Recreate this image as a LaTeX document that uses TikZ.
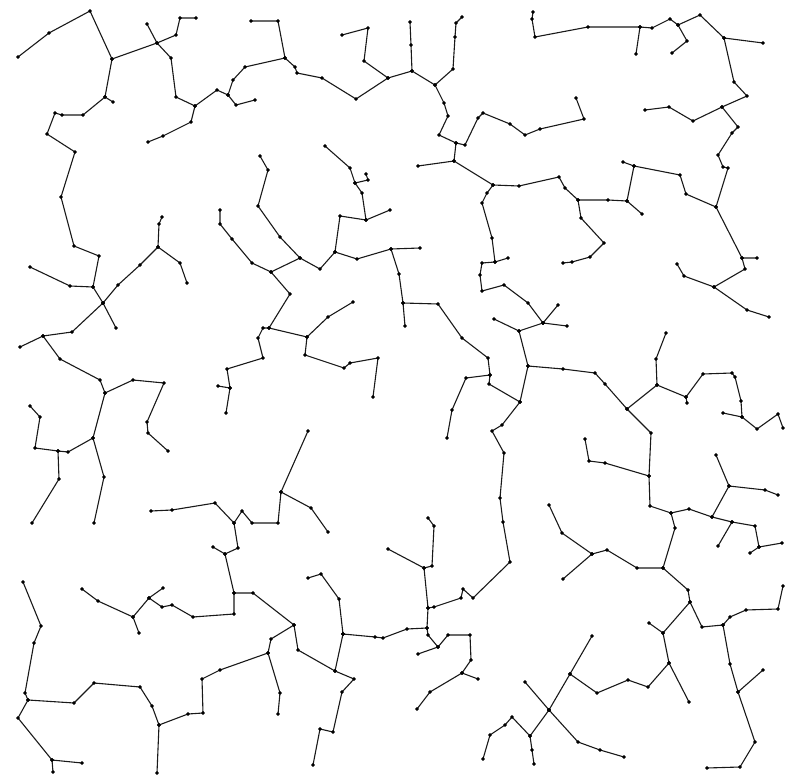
\documentclass[tikz,border=0pt]{standalone}
\usepackage{tikz}
\usetikzlibrary{positioning}

\begin{document}
\begin{tikzpicture}[
    x=1pt, y=-1pt,
    branch/.style={draw=black!90, line width=1.1pt, line join=round,
                 mark=*, mark size=1.7pt, mark options={fill=black, draw=black, line width=0.4pt}}
  ]

  \useasboundingbox (0,0) rectangle (788,778);

  % top left
  \draw[branch] plot coordinates {(18,57) (49,33) (90,11) (112,59) (105,97) (83,115) (62,115) (55,113) (47,134) (75,152) (61,197) (74,246) (99,256) (93,287) (103,303) (116,328)};
  \draw[branch] plot coordinates {(105,97) (113,102)};
  \draw[branch] plot coordinates {(112,59) (157,43) (176,35) (180,18) (196,18)};
  \draw[branch] plot coordinates {(147,24) (157,43) (171,58) (176,97) (195,106) (191,122) (163,136) (148,142)};
  \draw[branch] plot coordinates {(195,106) (217,90) (228,95) (233,80) (245,67) (285,58) (278,21) (251,21)};
  \draw[branch] plot coordinates {(228,95) (236,105) (255,100)};
  \draw[branch] plot coordinates {(285,58) (295,67) (297,73) (322,78) (356,99) (388,78) (364,61) (368,28) (342,35)};
  \draw[branch] plot coordinates {(388,78) (412,71) (411,45) (410,22)};
  \draw[branch] plot coordinates {(412,71) (435,85) (453,69) (455,37) (456,23) (462,17)};
  \draw[branch] plot coordinates {(435,85) (444,103) (448,116) (439,135) (456,143) (465,145) (478,118) (483,113) (510,124) (525,135) (540,129) (584,119) (576,98)};
  \draw[branch] plot coordinates {(456,143) (454,161) (418,166)};
  \draw[branch] plot coordinates {(454,161) (493,185) (519,186) (559,177) (565,188) (578,200) (608,200) (627,201) (642,214)};
  \draw[branch] plot coordinates {(578,200) (581,218) (604,243) (590,257) (572,262) (563,263)};
  \draw[branch] plot coordinates {(493,185) (487,193) (482,203) (492,238) (495,262) (508,258)};
  \draw[branch] plot coordinates {(495,262) (482,263) (480,275) (482,291) (504,285) (528,303) (543,323) (558,305)};
  \draw[branch] plot coordinates {(543,323) (567,326)};
  \draw[branch] plot coordinates {(543,323) (519,331) (494,319)};
  \draw[branch] plot coordinates {(519,331) (528,366) (520,402) (489,384) (490,375) (488,358) (462,338) (438,304) (403,303) (399,274) (391,249)};
  \draw[branch] plot coordinates {(403,303) (405,326)};
  \draw[branch] plot coordinates {(490,375) (466,378) (452,410) (447,438)};

  % right side
  \draw[branch] plot coordinates {(528,366) (563,369) (595,373) (605,384) (627,409) (657,385) (656,359) (666,333)};
  \draw[branch] plot coordinates {(657,385) (686,397) (687,403)};
  \draw[branch] plot coordinates {(686,397) (703,374) (732,373) (735,377) (741,401) (742,417) (757,429) (778,414) (783,428)};
  \draw[branch] plot coordinates {(723,413) (742,417)};
  \draw[branch] plot coordinates {(627,409) (651,433) (649,476) (650,506) (671,513) (689,509) (712,517) (729,486) (716,455)};
  \draw[branch] plot coordinates {(729,486) (765,490) (778,495)};
  \draw[branch] plot coordinates {(712,517) (732,522) (755,526) (759,547) (782,543)};
  \draw[branch] plot coordinates {(759,547) (750,553)};
  \draw[branch] plot coordinates {(732,522) (718,546)};
  \draw[branch] plot coordinates {(649,476) (605,463) (589,461) (585,439)};
  \draw[branch] plot coordinates {(671,513) (675,528) (663,568) (688,590) (690,602) (702,627) (723,625) (730,617) (746,610) (778,609) (783,586)};
  \draw[branch] plot coordinates {(663,568) (637,568) (607,550) (592,554) (562,533) (549,505)};
  \draw[branch] plot coordinates {(592,554) (563,579)};
  \draw[branch] plot coordinates {(690,602) (663,633) (649,623)};
  \draw[branch] plot coordinates {(663,633) (669,663) (689,702)};
  \draw[branch] plot coordinates {(669,663) (648,687) (628,680) (597,693) (570,674) (592,636)};
  \draw[branch] plot coordinates {(570,674) (549,710) (525,682)};
  \draw[branch] plot coordinates {(549,710) (578,742) (600,750) (624,757)};
  \draw[branch] plot coordinates {(549,710) (530,736) (532,750) (534,764)};
  \draw[branch] plot coordinates {(530,736) (512,717) (505,725) (490,735) (483,759)};
  \draw[branch] plot coordinates {(723,625) (730,664) (738,692) (755,742) (740,767) (707,768)};
  \draw[branch] plot coordinates {(738,692) (763,670)};

  % bottom middle
  \draw[branch] plot coordinates {(520,402) (502,425) (492,431) (504,453) (500,498) (503,522) (510,562) (473,598) (463,589) (461,598) (434,607) (428,608) (424,568) (432,566) (434,526) (428,518)};
  \draw[branch] plot coordinates {(388,549) (424,568)};
  \draw[branch] plot coordinates {(428,608) (427,628) (407,629) (383,638) (375,637) (343,634)};
  \draw[branch] plot coordinates {(427,628) (428,635) (438,647) (418,654)};
  \draw[branch] plot coordinates {(438,647) (448,635) (470,635) (471,660) (462,673) (478,679)};
  \draw[branch] plot coordinates {(462,673) (430,692) (417,709)};
  \draw[branch] plot coordinates {(343,634) (339,599) (321,574) (308,578)};
  \draw[branch] plot coordinates {(343,634) (335,671) (354,679) (342,692) (333,732) (320,729) (313,765)};
  \draw[branch] plot coordinates {(335,671) (298,650) (294,625) (253,593) (234,593) (225,554) (213,547)};
  \draw[branch] plot coordinates {(225,554) (238,548) (234,523) (242,511) (252,523) (278,523) (281,492) (308,431)};
  \draw[branch] plot coordinates {(281,492) (311,508) (328,532)};
  \draw[branch] plot coordinates {(234,523) (215,503) (172,510) (151,511)};

  % bottom left
  \draw[branch] plot coordinates {(294,625) (271,639) (268,653) (220,670) (202,679) (203,713) (188,714) (159,725) (152,706) (140,687) (94,683) (74,703) (28,700) (25,693) (34,643) (41,626) (23,582)};
  \draw[branch] plot coordinates {(268,653) (280,693) (278,714)};
  \draw[branch] plot coordinates {(159,725) (157,773)};
  \draw[branch] plot coordinates {(234,593) (234,614) (193,617) (172,605) (162,607) (149,598) (163,588)};
  \draw[branch] plot coordinates {(149,598) (133,617) (139,633)};
  \draw[branch] plot coordinates {(133,617) (98,601) (82,589)};
  \draw[branch] plot coordinates {(28,700) (18,718) (52,760) (82,763)};
  \draw[branch] plot coordinates {(52,760) (53,772)};

  % left middle
  \draw[branch] plot coordinates {(103,303) (118,285) (140,265) (158,247) (159,224) (162,217)};
  \draw[branch] plot coordinates {(158,247) (180,263) (187,283)};
  \draw[branch] plot coordinates {(93,287) (70,286) (30,267)};
  \draw[branch] plot coordinates {(103,303) (72,332) (43,336) (20,347)};
  \draw[branch] plot coordinates {(43,336) (60,359) (100,380) (105,393) (133,380) (164,383) (147,422) (148,433) (168,451)};
  \draw[branch] plot coordinates {(105,393) (93,438) (68,452) (58,451) (35,448) (40,417) (30,406)};
  \draw[branch] plot coordinates {(58,451) (59,479) (32,523)};
  \draw[branch] plot coordinates {(93,438) (104,477) (94,523)};

  % centre
  \draw[branch] plot coordinates {(220,210) (220,224) (232,239) (252,263) (271,272) (300,258) (320,269) (335,252) (340,216) (366,220) (362,193) (355,183) (350,168) (325,146)};
  \draw[branch] plot coordinates {(260,156) (268,170) (258,206) (280,237) (300,258)};
  \draw[branch] plot coordinates {(335,252) (357,259) (391,249) (420,248)};
  \draw[branch] plot coordinates {(366,220) (390,210)};
  \draw[branch] plot coordinates {(355,183) (368,180) (366,174)};
  \draw[branch] plot coordinates {(271,272) (290,294) (269,328) (263,328) (258,338) (263,358) (227,369) (230,388) (226,413)};
  \draw[branch] plot coordinates {(218,386) (230,388)};
  \draw[branch] plot coordinates {(269,328) (307,337) (328,317) (353,302)};
  \draw[branch] plot coordinates {(307,337) (305,355) (344,368) (350,363) (378,358) (373,397)};

  % top right
  \draw[branch] plot coordinates {(533,12) (532,19) (535,37) (588,27) (640,27) (652,28) (670,19) (678,25) (700,15) (724,38) (763,43)};
  \draw[branch] plot coordinates {(640,27) (636,54)};
  \draw[branch] plot coordinates {(678,25) (687,41) (672,53)};
  \draw[branch] plot coordinates {(724,38) (734,82) (747,96) (722,107) (693,121) (669,107) (645,110)};
  \draw[branch] plot coordinates {(722,107) (738,127) (732,133) (718,155) (723,167) (728,168) (716,207) (742,258) (757,258)};
  \draw[branch] plot coordinates {(716,207) (686,194) (680,175) (634,166) (623,162)};
  \draw[branch] plot coordinates {(634,166) (627,201)};
  \draw[branch] plot coordinates {(677,264) (684,276) (714,287) (745,269) (742,258)};
  \draw[branch] plot coordinates {(714,287) (747,310) (769,317)};

\end{tikzpicture}
\end{document}
